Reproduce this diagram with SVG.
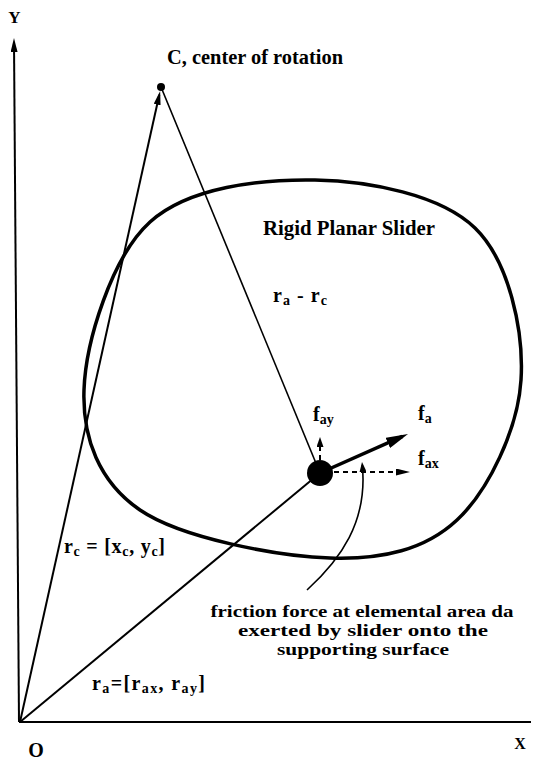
<svg xmlns="http://www.w3.org/2000/svg" width="533" height="763" viewBox="0 0 533 763">
<defs>
<style>
text{font-family:"Liberation Serif","Times New Roman",serif;font-weight:bold;fill:#000}
.t{font-size:20px}
.sub{font-size:14px}
.note{font-size:16.5px}
.ln{stroke:#000;fill:none;stroke-width:2}
.dash{stroke-dasharray:5 4}
</style>
<marker id="big" markerUnits="userSpaceOnUse" markerWidth="22" markerHeight="11" refX="16" refY="5.5" orient="auto"><path d="M0,0 L22,5.5 L0,11 z" fill="#000"/></marker>
<marker id="med" markerUnits="userSpaceOnUse" markerWidth="14" markerHeight="7" refX="10" refY="3.5" orient="auto"><path d="M0,0 L14,3.5 L0,7 z" fill="#000"/></marker>
<marker id="small" markerUnits="userSpaceOnUse" markerWidth="10" markerHeight="7" refX="7" refY="3.5" orient="auto"><path d="M0,0 L10,3.5 L0,7 z" fill="#000"/></marker>
</defs>
<rect width="533" height="763" fill="#fff"/>

<g id="connectors">
<line id="axis-y" class="ln" x1="19" y1="722" x2="14" y2="42" marker-end="url(#med)"/>
<line id="axis-x" class="ln" x1="19" y1="722" x2="531" y2="722"/>
<line id="r-c" class="ln" x1="20" y1="722" x2="159.3" y2="94.8" marker-end="url(#med)"/>
<line id="ra-rc" class="ln" style="stroke-width:1.6" x1="161" y1="87" x2="320" y2="473"/>
<line id="r-a" class="ln" x1="20" y1="722" x2="320" y2="473"/>
<line id="f-a" class="ln" style="stroke-width:3.5" x1="320" y1="473" x2="402.5" y2="436.4" marker-end="url(#big)"/>
<line id="f-ay" class="ln dash" x1="320" y1="460" x2="320" y2="440" marker-end="url(#small)"/>
<line id="f-ax" class="ln dash" x1="334" y1="472" x2="406" y2="472" marker-end="url(#med)"/>
<path id="leader" class="ln" style="stroke-width:1.6" d="M307,590 C340,560 368,522 362.3,465" marker-end="url(#small)"/>
</g>

<g id="slider">
<path d="M315,180 C369.2,181 440.7,194.7 475,228 C509.3,261.3 524,331.3 521,380 C518,428.7 488.8,490.3 457,520 C425.2,549.7 382.8,559.7 330,558 C277.2,556.3 181,538 140,510 C99,482 82.3,438 84,390 C85.7,342 111.5,257 150,222 C188.5,187 260.8,179 315,180 Z" fill="none" stroke="#000" stroke-width="3.5"/>
<text class="t" x="263" y="235" textLength="172" lengthAdjust="spacingAndGlyphs">Rigid Planar Slider</text>
</g>

<g id="point-C">
<circle cx="161" cy="87" r="4" fill="#000"/>
<text class="t" x="167" y="64" textLength="176" lengthAdjust="spacingAndGlyphs">C, center of rotation</text>
</g>

<g id="element-da">
<circle cx="320" cy="473" r="13" fill="#000"/>
</g>

<g id="labels">
<text class="t" x="14.5" y="23" text-anchor="middle" style="font-size:17px">Y</text>
<text class="t" x="36" y="757" text-anchor="middle" style="font-size:20px">O</text>
<text class="t" x="520" y="749" text-anchor="middle" style="font-size:16px">X</text>
<text class="t" x="273" y="302" textLength="54">r<tspan class="sub" dy="3">a</tspan><tspan dy="-3"> - r</tspan><tspan class="sub" dy="3">c</tspan></text>
<text class="t" x="313" y="421">f<tspan class="sub" dy="3">ay</tspan></text>
<text class="t" x="418" y="420">f<tspan class="sub" dy="3">a</tspan></text>
<text class="t" x="418" y="465">f<tspan class="sub" dy="3">ax</tspan></text>
<text class="t" x="64" y="553" textLength="101">r<tspan class="sub" dy="3">c</tspan><tspan dy="-3"> = [x</tspan><tspan class="sub" dy="3">c</tspan><tspan dy="-3">, y</tspan><tspan class="sub" dy="3">c</tspan><tspan dy="-3">]</tspan></text>
<text class="t" x="92" y="690" textLength="113">r<tspan class="sub" dy="3">a</tspan><tspan dy="-3">=[r</tspan><tspan class="sub" dy="3">ax</tspan><tspan dy="-3">, r</tspan><tspan class="sub" dy="3">ay</tspan><tspan dy="-3">]</tspan></text>
<text class="note" x="362" y="617" text-anchor="middle" textLength="303" lengthAdjust="spacingAndGlyphs">friction force at elemental area da</text>
<text class="note" x="363" y="636" text-anchor="middle" textLength="250" lengthAdjust="spacingAndGlyphs">exerted by slider onto the</text>
<text class="note" x="363" y="655" text-anchor="middle" textLength="172" lengthAdjust="spacingAndGlyphs">supporting surface</text>
</g>
</svg>
